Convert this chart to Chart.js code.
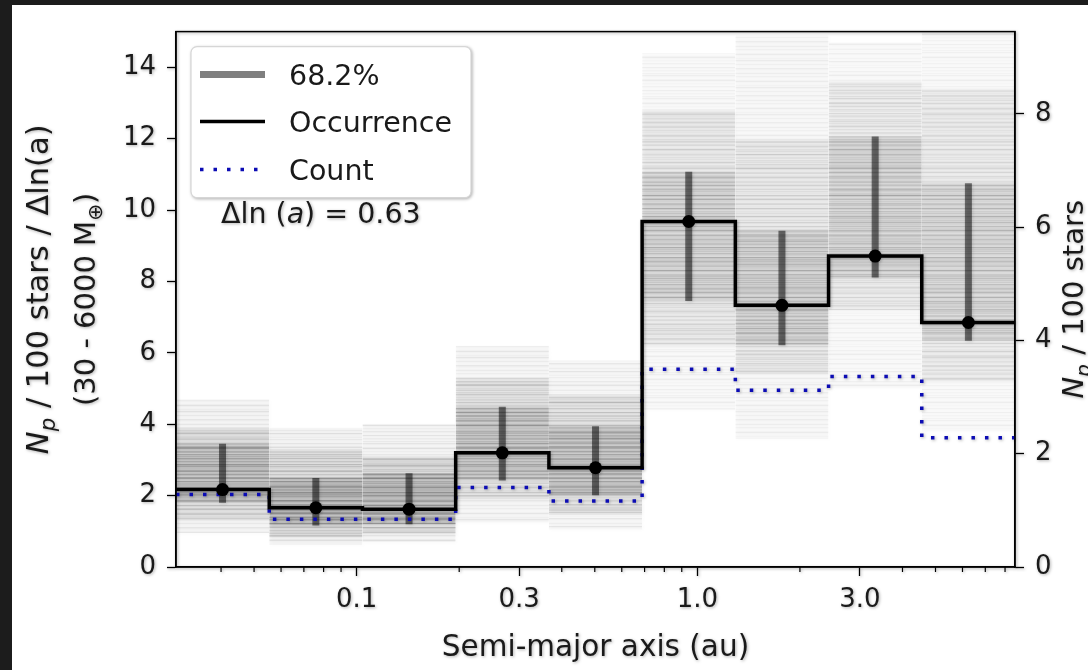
<!DOCTYPE html>
<html>
<head>
<meta charset="utf-8">
<script src="https://cdn.jsdelivr.net/npm/chart.js@4.4.1/dist/chart.umd.min.js"></script>
<style>
  html, body { margin: 0; padding: 0; background: #1c1c1c; }
  body { width: 1088px; height: 670px; overflow: hidden; position: relative; }
  #panel { position: absolute; left: 12px; top: 5px; width: 1076px; height: 665px; background: #ffffff; }
  #c { position: absolute; left: 0; top: 0; filter: drop-shadow(1px 1.5px 1.5px rgba(0,0,0,0.3)); }
</style>
</head>
<body>
<div id="panel"><canvas id="c" width="1076" height="665"></canvas></div>
<script>
// ---- data -------------------------------------------------------------
const DLNA = 0.63;                       // bin width in ln(a)
const binEdges   = [0.0295, 0.0554, 0.1040, 0.1953, 0.3667, 0.6885, 1.2927, 2.4271, 4.5572, 8.5566];
const binCentres = [0.0404, 0.0759, 0.1425, 0.2676, 0.5025, 0.9434, 1.7713, 3.3258, 6.2445];

// occurrence (planets / 100 stars / dln a) and its 68.2% interval
const occurrence = [2.17, 1.66, 1.62, 3.20, 2.78, 9.68, 7.33, 8.71, 6.85];
const ci68Low    = [1.80, 1.16, 1.20, 2.42, 2.01, 7.45, 6.21, 8.11, 6.34];
const ci68High   = [3.45, 2.49, 2.63, 4.49, 3.94, 11.07, 9.42, 12.06, 10.75];

// raw planet count per bin on the same scale
const countRate  = [2.03, 1.34, 1.34, 2.23, 1.85, 5.54, 4.95, 5.34, 3.62];

// spread of the posterior draws in each bin
const sampleMin    = [0.95, 0.62, 0.70, 1.25, 1.05, 4.40, 3.60, 5.00, 3.80];
const sampleMax    = [4.70, 3.90, 4.00, 6.20, 5.80, 14.4, 14.9, 14.7, 15.0];
const sample95Low  = [1.35, 0.85, 0.95, 1.90, 1.50, 6.20, 5.40, 7.20, 5.20];
const sample95High = [3.90, 3.30, 3.10, 5.30, 4.80, 12.8, 12.0, 13.6, 13.4];

// axes
const leftTicks   = [0, 2, 4, 6, 8, 10, 12, 14];
const rightTicks  = [0, 2, 4, 6, 8];
const xMajorTicks = [0.1, 0.3, 1.0, 3.0];
const xTickLabels = ['0.1', '0.3', '1.0', '3.0'];
const xMinorTicks = [0.04, 0.05, 0.06, 0.07, 0.08, 0.09, 0.2, 0.4, 0.5, 0.6, 0.7, 0.8, 0.9, 2, 4, 5, 6, 7, 8];
const legendLabels = ['68.2%', 'Occurrence', 'Count'];

// ---- styling helpers -------------------------------------------------
const FONT = '"DejaVu Sans", "Liberation Sans", sans-serif';
const INK = '#1a1a1a';
const BAND_INK = 'rgba(0,0,0,0.5)';
const COUNT_BLUE = '#0c0cb4';

// streak textures for the posterior haze (row intensity multipliers)
const streakSets = [
  [0.3,1,0.4,0.1,0.2,0.7,0.2,0.1,0.1,0.9,0.5,0.2,0.1,0.3,0.8,0.2,0.1,0.6,0.3,0.1,0.1,0.4,1,0.3,0.1,0.2,0.5],
  [0.6,0.2,0.1,0.1,0.8,0.3,0.1,0.5,1,0.2,0.1,0.1,0.3,0.7,0.1,0.2,0.1,0.9,0.4,0.1,0.1,0.2,0.6,0.2,0.1,1,0.3,0.1,0.2,0.4,0.1],
  [0.2,0.8,0.3,0.1,0.1,0.5,1,0.2,0.1,0.4,0.2,0.1,0.7,0.3,0.1,0.1,0.9,0.2,0.1,0.5,0.3,0.1,0.6]
];
function streakPattern(rows, k) {
  const c = document.createElement('canvas');
  c.width = 8; c.height = rows.length;
  const g = c.getContext('2d');
  rows.forEach((a, i) => {
    g.fillStyle = 'rgba(0,0,0,' + Math.min(1, 0.3 * k + a * k).toFixed(3) + ')';
    g.fillRect(0, i, 8, 1);
  });
  return g.createPattern(c, 'repeat');
}

const hazeLayers = [
  { lo: sampleMin,   hi: sampleMax,    k: 0.07 },
  { lo: sample95Low, hi: sample95High, k: 0.13 },
  { lo: ci68Low,     hi: ci68High,     k: 0.19 }
];

const stepPoints = vals => binEdges.map((e, i) => ({ x: e, y: vals[Math.min(i, vals.length - 1)] }));

const datasets = [];
hazeLayers.forEach((layer, li) => {
  binCentres.forEach((c, i) => {
    // narrower posteriors pile their draws up more densely
    const density = Math.sqrt(2 / (ci68High[i] - ci68Low[i]));
    datasets.push({
      data: [{ x: binEdges[i], y: layer.hi[i] }, { x: binEdges[i + 1], y: layer.hi[i] }],
      fill: { value: layer.lo[i] },
      backgroundColor: streakPattern(streakSets[(i + li) % streakSets.length], layer.k * density),
      borderColor: 'rgba(0,0,0,0)', borderWidth: 0, pointRadius: 0,
      yAxisID: 'y', order: 30
    });
  });
});

// 68.2% interval bars
const ciBars = [];
binCentres.forEach((c, i) => {
  ciBars.push({ x: c, y: ci68Low[i] }, { x: c, y: ci68High[i] }, { x: c, y: null });
});
datasets.push({
  data: ciBars, borderColor: BAND_INK, borderWidth: 7, borderCapStyle: 'butt',
  pointRadius: 0, spanGaps: false, fill: false, yAxisID: 'y', order: 5
});
// count (dotted step)
datasets.push({
  data: stepPoints(countRate), stepped: 'before', borderColor: COUNT_BLUE, borderWidth: 3.5,
  borderDash: [3.5, 10], borderCapStyle: 'butt', pointRadius: 0, fill: false, yAxisID: 'y', order: 4
});
// occurrence (solid step)
datasets.push({
  data: stepPoints(occurrence), stepped: 'before', borderColor: '#000', borderWidth: 3.5,
  borderJoinStyle: 'miter', pointRadius: 0, fill: false, yAxisID: 'y', order: 3
});
// occurrence markers
datasets.push({
  data: binCentres.map((c, i) => ({ x: c, y: occurrence[i] })), showLine: false,
  pointRadius: 6.5, pointBackgroundColor: '#000', pointBorderColor: '#000', pointBorderWidth: 0,
  yAxisID: 'y', order: 1
});

// ---- text drawing ----------------------------------------------------
function segFont(s, size) {
  const sz = s.sub ? size * 0.7 : size;
  return (s.italic ? 'italic ' : '') + sz + 'px ' + FONT;
}
function richWidth(ctx, segs, size) {
  let w = 0;
  segs.forEach(s => { ctx.font = segFont(s, size); w += ctx.measureText(s.t).width; });
  return w;
}
// draws rich text whose vertical middle sits at y
function drawRich(ctx, segs, x, y, size, align) {
  ctx.textBaseline = 'alphabetic';
  ctx.textAlign = 'left';
  let cx = align === 'center' ? x - richWidth(ctx, segs, size) / 2 : x;
  const base = y + size * 0.36;
  segs.forEach(s => {
    ctx.font = segFont(s, size);
    ctx.fillText(s.t, cx, base + (s.sub ? size * 0.22 : 0));
    cx += ctx.measureText(s.t).width;
  });
}

const yTitleLine1 = [{ t: 'N', italic: true }, { t: 'p', italic: true, sub: true }, { t: ' / 100 stars / \u0394ln(a)' }];
const yTitleLine2 = [{ t: '(30 - 6000 M' }, { t: '\u2295', sub: true }, { t: ')' }];
const y2Title     = [{ t: 'N', italic: true }, { t: 'p', italic: true, sub: true }, { t: ' / 100 stars' }];
const binNote     = [{ t: '\u0394ln (' }, { t: 'a', italic: true }, { t: ') = 0.63' }];
const xTitle      = 'Semi-major axis (au)';

const decor = {
  id: 'decor',
  afterDatasetsDraw(chart) {
    const { ctx, chartArea: ca, scales } = chart;
    ctx.save();
    // frame
    ctx.strokeStyle = '#000'; ctx.lineWidth = 1.5;
    ctx.strokeRect(ca.left, ca.top, ca.right - ca.left, ca.bottom - ca.top);
    // minor x ticks
    ctx.lineWidth = 1.2;
    xMinorTicks.forEach(v => {
      const px = scales.x.getPixelForValue(v);
      ctx.beginPath(); ctx.moveTo(px, ca.bottom); ctx.lineTo(px, ca.bottom + 5); ctx.stroke();
    });

    // legend
    const lx = ca.left + 15, ly = ca.top + 15, lw = 280, lh = 151;
    ctx.beginPath();
    ctx.roundRect(lx, ly, lw, lh, 6);
    ctx.fillStyle = '#ffffff'; ctx.fill();
    ctx.strokeStyle = '#d6d6d6'; ctx.lineWidth = 1.2; ctx.stroke();
    const rows = [ly + 28, ly + 75, ly + 123];
    ctx.lineCap = 'butt';
    ctx.strokeStyle = BAND_INK; ctx.lineWidth = 7;
    ctx.beginPath(); ctx.moveTo(lx + 9, rows[0]); ctx.lineTo(lx + 74, rows[0]); ctx.stroke();
    ctx.strokeStyle = '#000'; ctx.lineWidth = 3.5;
    ctx.beginPath(); ctx.moveTo(lx + 9, rows[1]); ctx.lineTo(lx + 74, rows[1]); ctx.stroke();
    ctx.strokeStyle = COUNT_BLUE; ctx.setLineDash([3.5, 10]);
    ctx.beginPath(); ctx.moveTo(lx + 9, rows[2]); ctx.lineTo(lx + 74, rows[2]); ctx.stroke();
    ctx.setLineDash([]);
    ctx.fillStyle = INK;
    legendLabels.forEach((t, i) => drawRich(ctx, [{ t }], lx + 98, rows[i], 28.5, 'left'));

    // bin width note
    drawRich(ctx, binNote, ca.left + 45, ca.top + 181, 28.5, 'left');

    // axis titles
    const midY = (ca.top + ca.bottom) / 2;
    ctx.save();
    ctx.translate(25, midY - 10); ctx.rotate(-Math.PI / 2);
    drawRich(ctx, yTitleLine1, 0, 0, 30.5, 'center');
    ctx.restore();
    ctx.save();
    ctx.translate(73, midY); ctx.rotate(-Math.PI / 2);
    drawRich(ctx, yTitleLine2, 0, 0, 29, 'center');
    ctx.restore();
    ctx.save();
    ctx.translate(1061, midY); ctx.rotate(-Math.PI / 2);
    drawRich(ctx, y2Title, 0, 0, 29, 'center');
    ctx.restore();
    drawRich(ctx, [{ t: xTitle }], (ca.left + ca.right) / 2, 640, 29.5, 'center');
    ctx.restore();
  }
};

const tickFont = { family: FONT, size: 26 };
const axisGrid = { drawOnChartArea: false, drawTicks: true, tickLength: 9, tickColor: '#000', tickWidth: 1.3 };
const axisBorder = { display: true, color: '#000', width: 1.5 };

new Chart(document.getElementById('c'), {
  type: 'line',
  data: { datasets },
  options: {
    responsive: false,
    animation: false,
    events: [],
    layout: { padding: { top: 17, left: 0, right: 0, bottom: 0 } },
    plugins: { legend: { display: false }, tooltip: { enabled: false } },
    elements: { line: { tension: 0 } },
    scales: {
      x: {
        type: 'logarithmic', position: 'bottom',
        min: binEdges[0], max: binEdges[binEdges.length - 1],
        afterFit: s => { s.height = 103; },
        afterBuildTicks: s => { s.ticks = xMajorTicks.map(v => ({ value: v })); },
        ticks: { font: tickFont, color: INK, padding: 9, autoSkip: false, maxRotation: 0,
                 callback: (v, i) => xTickLabels[i] },
        grid: axisGrid, border: axisBorder
      },
      y: {
        type: 'linear', position: 'left', min: 0, max: 15,
        afterFit: s => { s.width = 164; },
        afterBuildTicks: s => { s.ticks = leftTicks.map(v => ({ value: v })); },
        ticks: { font: tickFont, color: INK, padding: 11, callback: v => String(v) },
        grid: axisGrid, border: axisBorder
      },
      y2: {
        type: 'linear', position: 'right', min: 0, max: 15 * DLNA,
        afterFit: s => { s.width = 73; },
        afterBuildTicks: s => { s.ticks = rightTicks.map(v => ({ value: v })); },
        ticks: { font: tickFont, color: INK, padding: 11, callback: v => String(v) },
        grid: axisGrid, border: axisBorder
      }
    }
  },
  plugins: [decor]
});
</script>
</body>
</html>
